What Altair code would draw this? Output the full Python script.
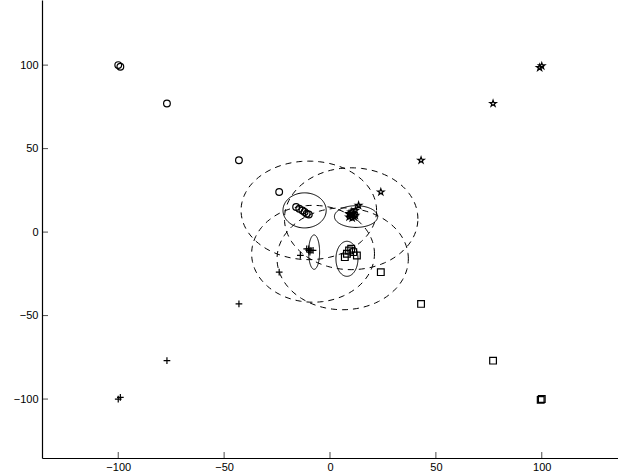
import numpy as np
import pandas as pd
import altair as alt

# Marker positions for the four classes (start near the corners, converge to the middle)
circle_x = [-100, -99, -77, -43, -24, -16, -14.5, -13, -12, -11, -10]
circle_y = [100, 99, 77, 43, 24, 15, 14, 13, 12, 11, 10.5]

star_x = [100, 99, 77, 43, 24, 13.5, 12, 11, 10, 9, 10, 11.5, 9, 12, 10.5, 9.5]
star_y = [99.5, 98.5, 77, 43, 24, 16, 13, 11, 10, 9, 12, 9, 11, 10, 8.5, 10.5]

plus_x = [-100, -99, -77, -43, -24, -14, -11, -10, -9, -9.5, -8, -10]
plus_y = [-100, -99, -77, -43, -24, -14, -10, -11, -11, -12, -11, -10]

square_x = [100, 99.5, 77, 43, 24, 12.7, 10, 9, 8, 7, 11]
square_y = [-100, -100.5, -77, -43, -24, -14, -10, -11, -13, -15, -12]

# Small solid ellipses around each cluster
inner_cx = [-12, 12.3, -7.5, 8]
inner_cy = [13, 9.3, -12, -16]
inner_rx = [10.2, 10.2, 2.6, 5.2]
inner_ry = [10.5, 6.5, 10.3, 10.5]

# Large dashed ellipses
outer_cx = [-10, 10, -8, 6]
outer_cy = [13, 8, -13, -16]
outer_rx = [32, 31.5, 29, 31]
outer_ry = [29.5, 30.5, 29, 30.5]

x_ticks = [-100, -50, 0, 50, 100]
y_ticks = [-100, -50, 0, 50, 100]

X_DOMAIN = [-136, 136]
Y_DOMAIN = [-135.3, 139]

STAR = ("M0,-1L0.225,-0.309L0.951,-0.309L0.363,0.118L0.588,0.809L0,0.382"
        "L-0.588,0.809L-0.363,0.118L-0.951,-0.309L-0.225,-0.309Z")
PLUS = "M-1,0L1,0M0,-1L0,1"

pts = pd.concat([
    pd.DataFrame({"x": circle_x, "y": circle_y, "kind": "circle"}),
    pd.DataFrame({"x": star_x, "y": star_y, "kind": "star"}),
    pd.DataFrame({"x": plus_x, "y": plus_y, "kind": "plus"}),
    pd.DataFrame({"x": square_x, "y": square_y, "kind": "square"}),
], ignore_index=True)


def ellipse_rows(cx, cy, rx, ry, prefix):
    t = np.linspace(0, 2 * np.pi, 121)
    rows = []
    for i, (a, b, r1, r2) in enumerate(zip(cx, cy, rx, ry)):
        for k, tt in enumerate(t):
            rows.append({"x": a + r1 * np.cos(tt), "y": b + r2 * np.sin(tt),
                         "id": f"{prefix}{i}", "k": k})
    return pd.DataFrame(rows)


inner_df = ellipse_rows(inner_cx, inner_cy, inner_rx, inner_ry, "in")
outer_df = ellipse_rows(outer_cx, outer_cy, outer_rx, outer_ry, "out")

xs = alt.Scale(domain=X_DOMAIN, nice=False, zero=False)
ys = alt.Scale(domain=Y_DOMAIN, nice=False, zero=False)

x_axis = alt.Axis(values=x_ticks, ticks=False, grid=False, labelPadding=3,
                  title=None, labelFlush=False)
y_axis = alt.Axis(values=y_ticks, ticks=False, grid=False, labelPadding=4,
                  title=None, labelFlush=False)

outer = alt.Chart(outer_df).mark_line(
    color="black", strokeWidth=1, strokeDash=[6, 5], clip=True
).encode(x=alt.X("x:Q", scale=xs, axis=x_axis),
         y=alt.Y("y:Q", scale=ys, axis=y_axis),
         detail="id:N", order="k:Q")

inner = alt.Chart(inner_df).mark_line(
    color="black", strokeWidth=1, clip=True
).encode(x=alt.X("x:Q", scale=xs), y=alt.Y("y:Q", scale=ys),
         detail="id:N", order="k:Q")

markers = alt.Chart(pts).mark_point(
    filled=False, color="black", strokeWidth=1.2, size=45, opacity=1
).encode(
    x=alt.X("x:Q", scale=xs),
    y=alt.Y("y:Q", scale=ys),
    shape=alt.Shape("kind:N",
                    scale=alt.Scale(domain=["circle", "star", "plus", "square"],
                                    range=["circle", STAR, PLUS, "square"]),
                    legend=None),
)

# Inward-pointing tick marks on both axes
xt = alt.Chart(pd.DataFrame({"v": x_ticks})).mark_tick(
    color="black", thickness=1, size=6, orient="vertical"
).encode(x=alt.X("v:Q", scale=xs), y=alt.value(455))

yt = alt.Chart(pd.DataFrame({"v": y_ticks})).mark_tick(
    color="black", thickness=1, size=6, orient="horizontal"
).encode(y=alt.Y("v:Q", scale=ys), x=alt.value(3))

chart = alt.layer(outer, inner, markers, xt, yt).properties(
    width=576, height=458,
    padding={"left": 42, "top": 0, "right": 0, "bottom": 17},
    autosize=alt.AutoSizeParams(type="none"),
    background="white",
).configure_view(stroke=None).configure_axis(
    domainColor="black", domainWidth=1.2, labelColor="black",
    labelFont="Liberation Sans", labelFontSize=11,
)

chart.save("out.html", embed_options={"renderer": "svg", "actions": False})
